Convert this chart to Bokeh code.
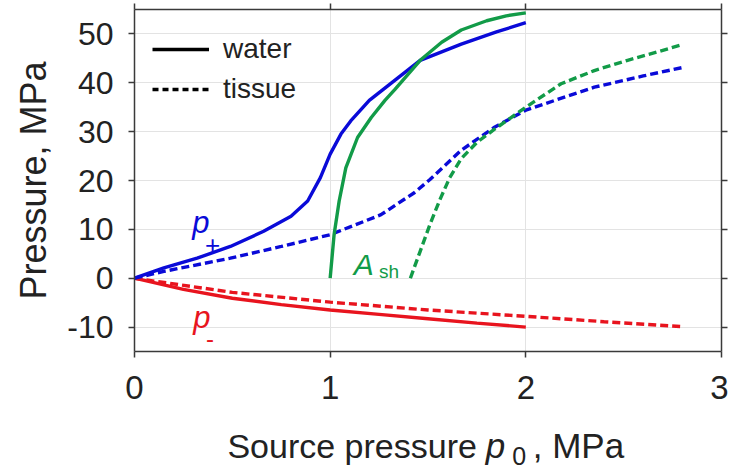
from bokeh.plotting import figure
from bokeh.layouts import column
from bokeh.models import Range1d, LinearAxis, FixedTicker, Label, Legend, LegendItem
from bokeh.embed import file_html
from bokeh.resources import INLINE

# ---------------- data ----------------
water_pplus_x = [0, 0.15, 0.32, 0.49, 0.66, 0.80, 0.885, 0.95, 1.0, 1.055, 1.105, 1.2, 1.33, 1.46, 1.67, 1.85, 2.0]
water_pplus_y = [0, 2.1, 4.1, 6.5, 9.6, 12.7, 15.8, 20.6, 25.4, 29.5, 32.2, 36.4, 40.5, 44.6, 47.9, 50.4, 52.3]

water_ash_x = [1.0, 1.02, 1.046, 1.08, 1.14, 1.21, 1.28, 1.33, 1.46, 1.57, 1.67, 1.8, 1.9, 2.0]
water_ash_y = [0, 8.9, 15.8, 22.6, 28.8, 32.9, 36.4, 38.6, 44.6, 48.3, 50.8, 52.7, 53.7, 54.3]

water_pminus_x = [0, 0.25, 0.5, 0.75, 1.0, 1.25, 1.5, 1.75, 2.0]
water_pminus_y = [0, -2.3, -4.1, -5.4, -6.5, -7.4, -8.3, -9.2, -10.0]

tissue_pplus_x = [0, 0.15, 0.49, 0.75, 1.0, 1.26, 1.43, 1.51, 1.67, 1.84, 2.0, 2.35, 2.6, 2.81]
tissue_pplus_y = [0, 1.4, 4.1, 6.5, 8.9, 13.0, 17.5, 20.2, 26.2, 30.9, 34.4, 39.1, 41.4, 43.2]

tissue_ash_x = [1.41, 1.46, 1.51, 1.56, 1.61, 1.67, 1.75, 1.84, 2.0, 2.18, 2.35, 2.52, 2.67, 2.79]
tissue_ash_y = [0, 5.5, 11.0, 16.0, 20.5, 24.5, 27.8, 30.5, 35.0, 39.8, 42.5, 44.6, 46.3, 47.7]

tissue_pminus_x = [0, 0.5, 1.0, 1.5, 2.0, 2.4, 2.8]
tissue_pminus_y = [0, -2.9, -4.9, -6.5, -7.8, -8.9, -9.9]

x_ticks = [0, 1, 2, 3]
y_ticks = [-10, 0, 10, 20, 30, 40, 50]
legend_labels = ["water", "tissue"]
nan_pt = [float("nan")]

FONT = "Liberation Sans"
BLUE = "#0a0ad8"
RED = "#e8141e"
GREEN = "#129b48"
TXT = "#222222"
AX = "#3a3a3a"
LW = 3.4
DASH = "8 4"
FW, FH = 587, 342

p = figure(frame_width=FW, frame_height=FH, output_backend="svg", toolbar_location=None,
           x_range=Range1d(0, 3), y_range=Range1d(-15, 55),
           min_border_left=134, min_border_right=7, min_border_top=9, min_border_bottom=64)
p.outline_line_color = None
p.background_fill_color = "white"

# axes
xa = p.xaxis[0]
xa.ticker = FixedTicker(ticks=x_ticks)
ya = p.yaxis[0]
ya.ticker = FixedTicker(ticks=y_ticks)
ya.major_label_overrides = {t: str(t) for t in y_ticks}
for ax in (xa, ya):
    ax.major_tick_out = 6
    ax.major_tick_in = 0
    ax.minor_tick_line_color = None
    ax.axis_line_color = AX
    ax.axis_line_width = 1.5
    ax.major_tick_line_color = AX
    ax.major_tick_line_width = 1.5
    ax.major_label_text_font = FONT
    ax.major_label_text_font_size = "32px"
    ax.major_label_text_color = TXT
    ax.major_label_standoff = 15
xa.major_label_text_font_size = "33px"
xa.major_label_standoff = 18
ya.axis_label = "Pressure, MPa"
ya.axis_label_text_font = FONT
ya.axis_label_text_font_size = "36px"
ya.axis_label_text_font_style = "normal"
ya.axis_label_text_color = TXT
ya.axis_label_standoff = 10

top = LinearAxis(ticker=FixedTicker(ticks=x_ticks), major_label_overrides={t: "" for t in x_ticks})
right = LinearAxis(ticker=FixedTicker(ticks=y_ticks), major_label_overrides={t: "" for t in y_ticks})
for ax in (top, right):
    ax.major_tick_out = 6
    ax.major_tick_in = 0
    ax.minor_tick_line_color = None
    ax.axis_line_color = AX
    ax.axis_line_width = 1.5
    ax.major_tick_line_color = AX
    ax.major_tick_line_width = 1.5
    ax.major_label_standoff = 0
    ax.major_label_text_font_size = "1px"
p.add_layout(top, "above")
p.add_layout(right, "right")

# grid
p.xgrid.ticker = FixedTicker(ticks=x_ticks)
p.ygrid.ticker = FixedTicker(ticks=y_ticks)
for g in (p.xgrid[0], p.ygrid[0]):
    g.grid_line_color = "#e3e3e3"
    g.grid_line_width = 1

# curves
p.line(tissue_pminus_x, tissue_pminus_y, color=RED, line_width=LW, line_dash=DASH)
p.line(water_pminus_x, water_pminus_y, color=RED, line_width=LW)
p.line(tissue_pplus_x, tissue_pplus_y, color=BLUE, line_width=LW, line_dash=DASH)
p.line(tissue_ash_x, tissue_ash_y, color=GREEN, line_width=LW, line_dash=DASH)
p.line(water_pplus_x, water_pplus_y, color=BLUE, line_width=LW)
p.line(water_ash_x, water_ash_y, color=GREEN, line_width=LW)

# legend proxies (single NaN point, nothing drawn in the plot)
r_w = p.line(nan_pt, nan_pt, color="black", line_width=LW)
r_t = p.line(nan_pt, nan_pt, color="black", line_width=LW, line_dash="6 4")
legend = Legend(items=[LegendItem(label=legend_labels[0], renderers=[r_w]),
                       LegendItem(label=legend_labels[1], renderers=[r_t])],
                location=(18, FH - 24 - 72), background_fill_alpha=0, border_line_color=None,
                label_text_font=FONT, label_text_font_size="28px", label_text_color=TXT,
                glyph_width=57, glyph_height=32, label_height=32, spacing=8,
                padding=0, margin=0, label_standoff=14)
p.add_layout(legend)

# curve labels
def lab(fig, x, y, text, color, size, style="normal"):
    fig.add_layout(Label(x=x, y=y, text=text, text_color=color,
                         text_font=FONT, text_font_size=size, text_font_style=style,
                         text_baseline="alphabetic", text_align="left"))

lab(p, 0.295, 11.4, "p", BLUE, "31px", "italic")
lab(p, 0.36, 6.8, "+", BLUE, "26px")
lab(p, 0.30, -8.1, "p", RED, "31px", "italic")
lab(p, 0.365, -12.3, "-", RED, "24px")
lab(p, 1.12, 2.9, "A", GREEN, "30px", "italic")
lab(p, 1.25, 1.4, "sh", GREEN, "19px")

# x axis label in a strip below, sharing the x range (y in pixels from strip bottom)
q = figure(frame_width=FW, frame_height=60, output_backend="svg", toolbar_location=None,
           x_range=p.x_range, y_range=Range1d(0, 60),
           min_border_left=134, min_border_right=13, min_border_top=0, min_border_bottom=0)
q.axis.visible = False
q.grid.visible = False
q.outline_line_color = None
lab(q, 0.475, 30, "Source pressure", TXT, "34px")
lab(q, 1.795, 30, "p", TXT, "35px", "italic")
lab(q, 1.93, 20, "0", TXT, "25px")
lab(q, 2.035, 30, ", MPa", TXT, "35px")

layout = column(p, q, spacing=0)
open("out.html", "w").write(file_html(layout, INLINE))
